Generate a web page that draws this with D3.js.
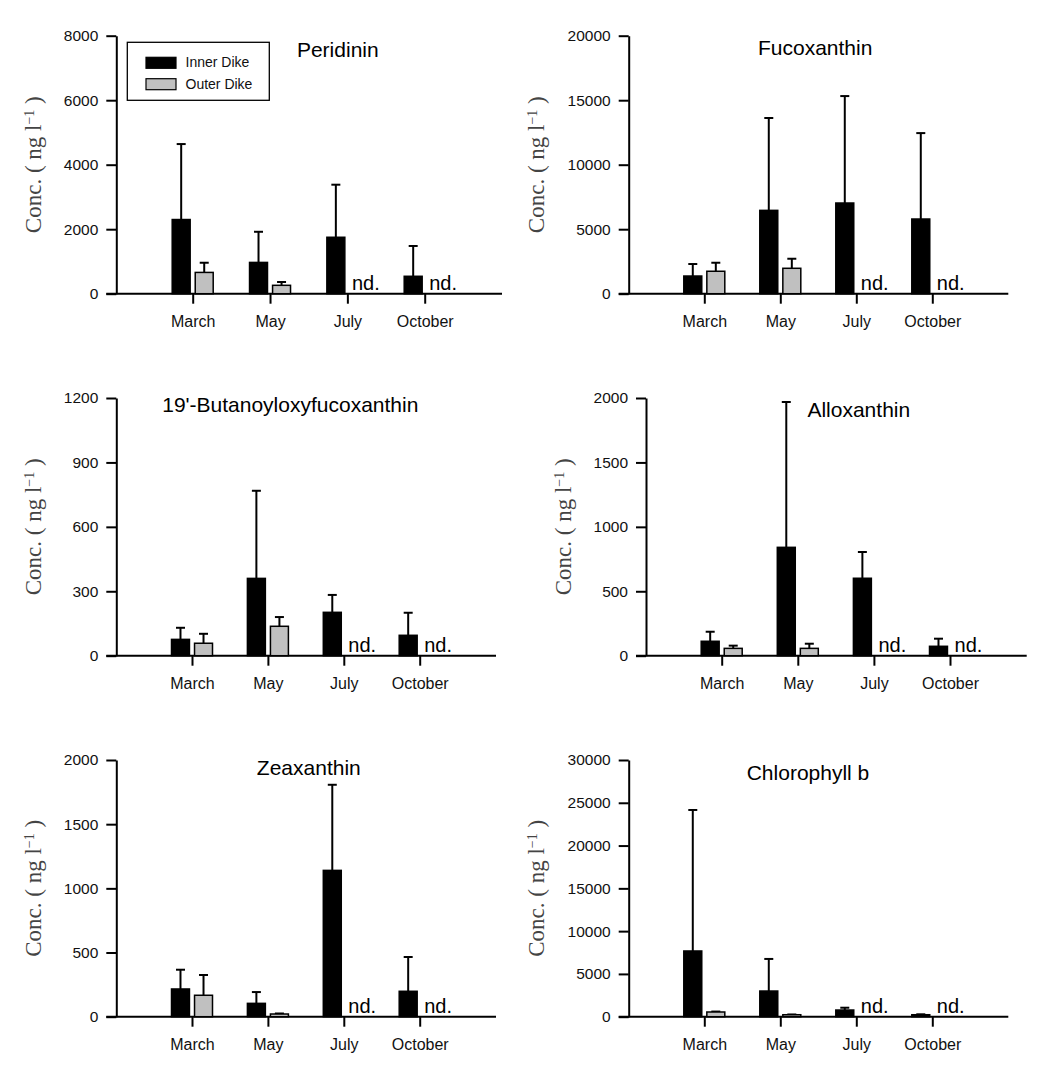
<!DOCTYPE html>
<html>
<head>
<meta charset="utf-8">
<script src="https://cdn.jsdelivr.net/npm/d3@7"></script>
<style>
  html, body { margin: 0; padding: 0; background: #fff; }
  svg { display: block; }
</style>
</head>
<body>
<script>
// ---------------- DATA ----------------
const months = ["March", "May", "July", "October"];
const pigments = ["Peridinin", "Fucoxanthin", "19'-Butanoyloxyfucoxanthin", "Alloxanthin", "Zeaxanthin", "Chlorophyll b"];
const series = ["Inner Dike", "Outer Dike"];
const yMax = [8000, 20000, 1200, 2000, 2000, 30000];
const yStep = [2000, 5000, 300, 500, 500, 5000];
// mean values (ng l-1)
const innerMean = [
  [2300, 970, 1750, 540],
  [1370, 6460, 7030, 5790],
  [76, 360, 202, 95],
  [112, 841, 601, 73],
  [216, 104, 1140, 198],
  [7680, 3000, 780, 230]
];
// top of error bar (mean + SD)
const innerUpper = [
  [4640, 1920, 3380, 1480],
  [2300, 13620, 15320, 12450],
  [130, 768, 283, 200],
  [186, 1969, 805, 132],
  [366, 192, 1807, 465],
  [24160, 6750, 1050, 280]
];
// null = not detected ("nd.")
const outerMean = [
  [660, 260, null, null],
  [1740, 1970, null, null],
  [58, 137, null, null],
  [57, 57, null, null],
  [167, 21, null, null],
  [550, 230, null, null]
];
const outerUpper = [
  [960, 363, null, null],
  [2400, 2710, null, null],
  [102, 180, null, null],
  [78, 93, null, null],
  [325, 25, null, null],
  [600, 260, null, null]
];

// ---------------- LAYOUT ----------------
const W = 1058, H = 1065;
const layout = [
  { x0: 116.3, top: 35.7, bottom: 293.7, first: 76.4, last: 308.4, end: 385.7, labelX: 40.7, tx: 221.5, ty: 21 },
  { x0: 628.7, top: 35.7, bottom: 293.7, first: 75.6, last: 303.6, end: 379.6, labelX: 544, tx: 186.5, ty: 19.3 },
  { x0: 116.3, top: 398, bottom: 655.7, first: 75.7, last: 303.4, end: 379.7, labelX: 40.7, tx: 174, ty: 13.7 },
  { x0: 646, top: 398, bottom: 655.7, first: 75.7, last: 304, end: 380.7, labelX: 570.7, tx: 212.8, ty: 19.3 },
  { x0: 116.3, top: 760, bottom: 1016.7, first: 75.7, last: 303.4, end: 379.7, labelX: 40.7, tx: 192.5, ty: 15 },
  { x0: 628.7, top: 760, bottom: 1016.7, first: 75.6, last: 303.6, end: 379.6, labelX: 544, tx: 179.3, ty: 20 }
];
const sans = "'Liberation Sans', Arial, sans-serif";
const serif = "'Liberation Serif', 'Times New Roman', serif";
const grayFill = "#c0c0c0";

const svg = d3.select("body").append("svg").attr("width", W).attr("height", H);

pigments.forEach((name, i) => {
  const L = layout[i];
  const g = svg.append("g");
  const y = d3.scaleLinear().domain([0, yMax[i]]).range([L.bottom, L.top]);
  const x = d3.scalePoint().domain(months).range([L.x0 + L.first, L.x0 + L.last]);
  const sub = d3.scaleBand().domain(series).range([-20.5, 20.5]).paddingInner(0.22);

  // Y axis
  const yAxis = d3.axisLeft(y)
    .tickValues(d3.range(0, yMax[i] + 1e-9, yStep[i]))
    .tickFormat(d3.format("d"))
    .tickSizeInner(10).tickSizeOuter(0).tickPadding(8);
  const ya = g.append("g").attr("transform", `translate(${L.x0},0)`).call(yAxis);
  ya.selectAll("path, line").attr("stroke", "#000").attr("stroke-width", 2);
  ya.selectAll("text").attr("font-family", sans).attr("font-size", 15.5).attr("fill", "#111");

  // X axis
  const xAxis = d3.axisBottom(x).tickSizeInner(10).tickSizeOuter(0).tickPadding(12);
  const xa = g.append("g").attr("transform", `translate(0,${L.bottom})`).call(xAxis);
  xa.select(".domain").remove();
  xa.selectAll("line").attr("stroke", "#000").attr("stroke-width", 2);
  xa.selectAll("text").attr("font-family", sans).attr("font-size", 16).attr("fill", "#111");
  g.append("line")
    .attr("x1", L.x0 - 10).attr("x2", L.x0 + L.end)
    .attr("y1", L.bottom).attr("y2", L.bottom)
    .attr("stroke", "#000").attr("stroke-width", 2);

  // Bars data
  const rows = [];
  months.forEach((m, j) => {
    rows.push({ m, s: series[0], v: innerMean[i][j], u: innerUpper[i][j] });
    rows.push({ m, s: series[1], v: outerMean[i][j], u: outerUpper[i][j] });
  });
  const present = rows.filter(d => d.v != null);
  const missing = rows.filter(d => d.v == null);

  // error bars (drawn beneath bars)
  g.selectAll(".err").data(present).join("line")
    .attr("x1", d => x(d.m) + sub(d.s) + sub.bandwidth() / 2)
    .attr("x2", d => x(d.m) + sub(d.s) + sub.bandwidth() / 2)
    .attr("y1", d => y(d.v))
    .attr("y2", d => y(d.u))
    .attr("stroke", "#000").attr("stroke-width", 2);
  g.selectAll(".cap").data(present).join("line")
    .attr("x1", d => x(d.m) + sub(d.s) + sub.bandwidth() / 2 - 4.5)
    .attr("x2", d => x(d.m) + sub(d.s) + sub.bandwidth() / 2 + 4.5)
    .attr("y1", d => y(d.u))
    .attr("y2", d => y(d.u))
    .attr("stroke", "#000").attr("stroke-width", 2);

  g.selectAll(".bar").data(present).join("rect")
    .attr("x", d => x(d.m) + sub(d.s))
    .attr("width", sub.bandwidth())
    .attr("y", d => y(d.v))
    .attr("height", d => y(0) - y(d.v))
    .attr("fill", d => d.s === series[0] ? "#000" : grayFill)
    .attr("stroke", "#000").attr("stroke-width", 1.5);

  // nd. labels
  g.selectAll(".nd").data(missing).join("text")
    .attr("x", d => x(d.m) + sub(d.s) + 2)
    .attr("y", L.bottom - 4)
    .attr("font-family", sans).attr("font-size", 20).attr("fill", "#000")
    .text("nd.");

  // Title
  g.append("text")
    .attr("x", L.x0 + L.tx).attr("y", L.top + L.ty)
    .attr("text-anchor", "middle")
    .attr("font-family", sans).attr("font-size", 21).attr("fill", "#000")
    .text(name);

  // Y label
  const cy = (L.top + L.bottom) / 2;
  const lab = g.append("text")
    .attr("transform", `translate(${L.labelX},${cy}) rotate(-90)`)
    .attr("text-anchor", "middle")
    .attr("font-family", serif).attr("font-size", 23).attr("fill", "#444");
  lab.append("tspan").text("Conc. ( ng l");
  lab.append("tspan").attr("baseline-shift", "super").attr("font-size", 14).text("\u22121");
  lab.append("tspan").text(" )");
});

// Legend (in first panel)
const Lg = svg.append("g");
Lg.append("rect").attr("x", 127.3).attr("y", 42.3).attr("width", 142).attr("height", 58)
  .attr("fill", "#fff").attr("stroke", "#000").attr("stroke-width", 1.3);
const legendItems = [
  { s: series[0], fill: "#000", y: 57.3 },
  { s: series[1], fill: grayFill, y: 78.7 }
];
legendItems.forEach(it => {
  Lg.append("rect").attr("x", 146).attr("y", it.y).attr("width", 30).attr("height", 11)
    .attr("fill", it.fill).attr("stroke", "#000").attr("stroke-width", 1.2);
  Lg.append("text").attr("x", 185.5).attr("y", it.y + 10)
    .attr("font-family", sans).attr("font-size", 14).attr("fill", "#111")
    .text(it.s);
});
</script>
</body>
</html>
